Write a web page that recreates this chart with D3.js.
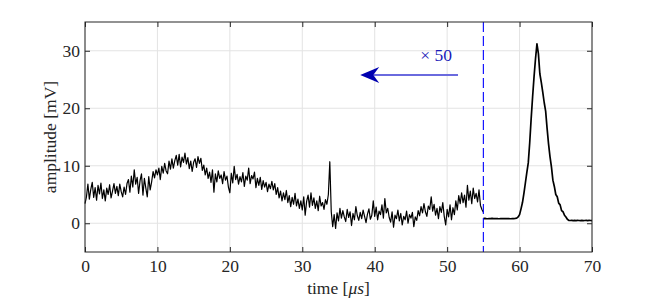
<!DOCTYPE html>
<html>
<head>
<meta charset="utf-8">
<script src="https://cdn.jsdelivr.net/npm/d3@7"></script>
<style>
  body { margin: 0; background: #fff; }
  text { font-family: "Liberation Serif", "DejaVu Serif", serif; }
</style>
</head>
<body>
<svg id="chart" width="654" height="300"></svg>
<script>

// sampled trace before the cut (0 .. 55 us, every 0.2 us), mV
var dtA = 0.2;
var traceA = [
  3.4, 4.6, 6.8, 4.2, 5.9, 7.1, 4.5, 6.2, 4.0, 6.6,
  5.1, 7.0, 4.3, 5.8, 3.9, 6.1, 5.0, 6.7, 4.4, 5.6,
  6.9, 5.2, 6.4, 4.8, 6.8, 5.5, 4.6, 6.3, 5.0, 6.9,
  7.6, 5.4, 8.2, 6.3, 9.3, 6.8, 8.0, 5.2, 7.4, 8.6,
  4.9, 7.8, 6.1, 4.6, 8.1, 5.8, 7.2, 9.0, 7.9, 9.3,
  8.4, 9.6, 7.6, 9.9, 8.7, 10.4, 9.1, 8.6, 10.8, 9.4,
  11.2, 9.6, 10.9, 11.8, 10.1, 12.0, 9.8, 11.5, 10.6, 12.2,
  10.3, 11.4, 9.5, 10.8, 9.0, 10.6, 11.2, 9.7, 11.6, 10.4,
  11.3, 9.2, 10.1, 8.4, 9.6, 7.8, 8.9, 7.1, 9.3, 5.4,
  8.6, 7.2, 9.1, 7.8, 8.4, 6.9, 9.0, 7.5, 8.2, 6.3,
  5.3, 8.7, 7.0, 9.9, 7.6, 8.5, 6.8, 8.1, 7.2, 8.8,
  6.4, 8.2, 7.5, 9.6, 6.9, 8.3, 7.7, 8.9, 6.2, 7.8,
  6.6, 8.0, 5.9, 7.4, 6.3, 7.1, 5.5, 6.8, 6.0, 7.3,
  5.8, 6.9, 5.0, 6.2, 4.4, 5.6, 3.9, 5.3, 4.1, 5.7,
  3.6, 4.8, 2.9, 4.5, 3.3, 5.2, 3.0, 4.2, 2.6, 3.9,
  2.3, 4.6, 1.4, 3.8, 4.9, 2.8, 5.3, 3.1, 4.4, 2.6,
  3.9, 2.2, 4.7, 3.0, 3.6, 2.4, 4.1, 3.3, 5.0, 10.7,
  2.0, -0.6, 1.5, -0.9, 1.8, 0.4, 2.6, 0.9, 2.2, 1.1,
  0.3, 2.4, 1.0, 2.0, -0.4, 1.7, 0.6, 2.9, 1.3, 0.5,
  1.9, 0.8, 2.3, 1.2, 0.1, 1.6, 2.5, 0.7, 1.4, 3.9,
  1.2, 2.8, 0.6, 2.1, 1.5, 3.2, 0.9, 4.3, 1.8, 2.6,
  1.0, 0.2, 2.0, -0.7, 1.4, 0.8, 2.3, 0.4, 1.7, -0.3,
  1.2, 0.6, 2.1, 0.0, 1.5, 0.9, 1.9, -0.6, 1.1, 0.5,
  2.2, 1.3, 2.9, 1.8, 3.4, 2.0, 1.2, 3.0, 2.4, 4.6,
  2.1, 3.3, 1.4, 2.6, 0.8, 2.9, 1.9, 3.6, 1.2, -0.3,
  2.4, 1.1, 3.2, 0.6, 2.7, 1.5, 3.9, 2.3, 4.8, 3.4,
  5.3, 3.6, 4.9, 2.8, 6.6, 4.0, 5.6, 3.4, 6.1, 4.3,
  5.2, 3.7, 5.8, 3.1, 2.4, 1.9
];

// trace after the cut (55 .. 70 us, every 0.2 us), mV
var startB = 55;
var dtB = 0.2;
var traceB = [
  0.80, 0.85, 0.80, 0.78, 0.82, 0.80, 0.84, 0.79, 0.80, 0.83,
  0.80, 0.78, 0.82, 0.80, 0.81, 0.79, 0.80, 0.83, 0.80, 0.78,
  0.80, 0.82, 0.85, 0.90, 1.10, 1.5, 2.5, 3.6, 5.2, 7.0,
  8.8, 10.5, 14.0, 18.2, 22.0, 25.5, 28.6, 31.2, 29.5, 26.0,
  24.5, 22.8, 21.0, 19.5, 16.5, 13.8, 11.6, 9.8, 7.5, 6.4,
  5.0, 4.6, 3.5, 3.2, 2.2, 2.0, 1.4, 1.1, 0.7, 0.5,
  0.48, 0.50, 0.46, 0.49, 0.47, 0.50, 0.48, 0.46, 0.49, 0.47,
  0.48, 0.50, 0.47, 0.49, 0.48, 0.47
];

var xTicks = [0, 10, 20, 30, 40, 50, 60, 70];
var yTicks = [0, 10, 20, 30];
var xDomain = [0, 70];
var yDomain = [-5, 35];

var cutTime = 55;
var arrowFrom = 51.5, arrowTo = 38, arrowLevel = 25.8;
var noteText = "\u00d7 50", noteTime = 46.3, noteLevel = 28.3;

var fontSize = 17.5;
var ink = "#262626";

var svg = d3.select("#chart");
var margin = {top: 22, right: 62, bottom: 48, left: 85};
var width = 654 - margin.left - margin.right;
var height = 300 - margin.top - margin.bottom;

var x = d3.scaleLinear().domain(xDomain).range([margin.left, margin.left + width]);
var y = d3.scaleLinear().domain(yDomain).range([margin.top + height, margin.top]);

// grid
var grid = svg.append("g").attr("stroke", "#e3e3e3").attr("stroke-width", 1);
grid.selectAll("line.gx").data(xTicks).enter().append("line")
  .attr("x1", d => x(d)).attr("x2", d => x(d))
  .attr("y1", margin.top).attr("y2", margin.top + height);
grid.selectAll("line.gy").data(yTicks).enter().append("line")
  .attr("y1", d => y(d)).attr("y2", d => y(d))
  .attr("x1", margin.left).attr("x2", margin.left + width);

// traces
var ptsA = traceA.map((v, i) => [i * dtA, v]);
var ptsB = traceB.map((v, i) => [startB + i * dtB, v]);
var line = d3.line().x(d => x(d[0])).y(d => y(d[1]));

svg.append("path").datum(ptsA)
  .attr("fill", "none").attr("stroke", "#000").attr("stroke-width", 1.2)
  .attr("stroke-linejoin", "round").attr("d", line);
svg.append("path").datum(ptsB)
  .attr("fill", "none").attr("stroke", "#000").attr("stroke-width", 1.7)
  .attr("stroke-linejoin", "round").attr("d", line);

// cut marker
svg.append("line")
  .attr("x1", x(cutTime)).attr("x2", x(cutTime))
  .attr("y1", margin.top).attr("y2", margin.top + height)
  .attr("stroke", "#0000ff").attr("stroke-width", 1.1)
  .attr("stroke-dasharray", "10,4");

// arrow + note
var ax0 = x(arrowFrom), ax1 = x(arrowTo), ay = y(arrowLevel);
svg.append("line")
  .attr("x1", ax0).attr("x2", ax1 + 12).attr("y1", ay).attr("y2", ay)
  .attr("stroke", "#6a6ade").attr("stroke-width", 2);
svg.append("path")
  .attr("d", "M" + ax1 + "," + ay + " L" + (ax1 + 19) + "," + (ay - 8) +
       " L" + (ax1 + 13) + "," + ay + " L" + (ax1 + 19) + "," + (ay + 8) + " Z")
  .attr("fill", "#0000b0");
svg.append("text")
  .attr("x", x(noteTime)).attr("y", y(noteLevel))
  .attr("fill", "#1a1ab8").attr("font-size", fontSize)
  .text(noteText);

// axes, box with inner ticks on all sides
var axB = d3.axisBottom(x).tickValues(xTicks).tickSizeInner(-5).tickSizeOuter(0).tickPadding(8);
var axL = d3.axisLeft(y).tickValues(yTicks).tickSizeInner(-5).tickSizeOuter(0).tickPadding(5);
var axT = d3.axisTop(x).tickValues(xTicks).tickSizeInner(-5).tickSizeOuter(0).tickFormat("");
var axR = d3.axisRight(y).tickValues(yTicks).tickSizeInner(-5).tickSizeOuter(0).tickFormat("");

function styleAxis(g) {
  g.attr("font-family", null).attr("font-size", null);
  g.select(".domain").remove();
  g.selectAll(".tick line").attr("stroke", ink);
  g.selectAll("text").attr("fill", ink).attr("font-size", fontSize);
}

svg.append("g").attr("transform", "translate(0," + (margin.top + height) + ")").call(axB).call(styleAxis);
svg.append("g").attr("transform", "translate(" + margin.left + ",0)").call(axL).call(styleAxis);
svg.append("g").attr("transform", "translate(0," + margin.top + ")").call(axT).call(styleAxis);
svg.append("g").attr("transform", "translate(" + (margin.left + width) + ",0)").call(axR).call(styleAxis);

svg.append("rect")
  .attr("x", margin.left).attr("y", margin.top)
  .attr("width", width).attr("height", height)
  .attr("fill", "none").attr("stroke", ink).attr("stroke-width", 1);

// labels
svg.append("text")
  .attr("x", margin.left + width / 2).attr("y", 294)
  .attr("text-anchor", "middle").attr("fill", ink).attr("font-size", fontSize)
  .html('time [<tspan font-style="italic">\u03bcs</tspan>]');

svg.append("text")
  .attr("transform", "translate(56," + (margin.top + height / 2) + ") rotate(-90)")
  .attr("text-anchor", "middle").attr("fill", ink).attr("font-size", fontSize)
  .text("amplitude [mV]");

</script>
</body>
</html>
